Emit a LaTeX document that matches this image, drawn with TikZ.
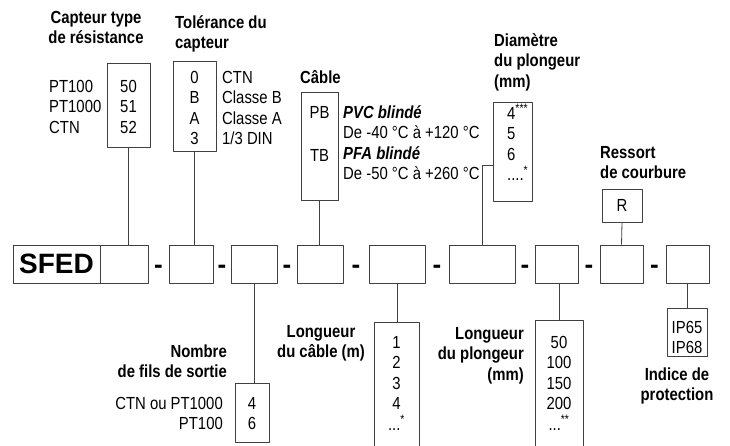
\documentclass[tikz,border=0pt]{standalone}
\usepackage{fontspec}
\setmainfont{Liberation Sans}[FakeStretch=0.85]
\newfontfamily\codefont{Liberation Sans}
\usetikzlibrary{calc,positioning}

\tikzset{
  boite/.style={draw=black!75, line width=0.8pt, inner sep=0pt},
  lien/.style={draw=black!75, line width=0.8pt},
  txt/.style={inner sep=0pt, font=\fontsize{17.5}{20.5}\selectfont},
  titre/.style={inner sep=0pt, font=\bfseries\fontsize{17.5}{20.5}\selectfont},
  tiret/.style={inner sep=0pt, yshift=-5pt, font=\codefont\bfseries\fontsize{26}{26}\selectfont},
}
% box given by two corners, in pixels (y goes down)
\newcommand{\boite}[5]{%
  \pgfmathsetmacro{\bw}{#4-#2}%
  \pgfmathsetmacro{\bh}{#5-#3}%
  \node[boite, minimum width=\bw pt, minimum height=\bh pt] (#1) at ({(#2+#4)/2},{(#3+#5)/2}) {};}

\begin{document}
\begin{tikzpicture}[x=1pt, y=-1pt, line join=round]
\useasboundingbox[fill=white] (0,0) rectangle (730,445);

% main code row
\node[boite, minimum width=87pt, minimum height=38pt,
      font=\codefont\bfseries\fontsize{28}{28}\selectfont] (sfed) at (56.5,264) {SFED};
\foreach \n/\xa/\xb in {1/100/148, 2/169/213, 3/231/277, 4/297/343,
                        5/369/425, 6/449/515, 7/535/578, 8/600/643, 9/666/709}{
  \boite{c\n}{\xa}{245}{\xb}{283}
}
\foreach \a/\b in {1/2,2/3,3/4,4/5,5/6,6/7,7/8,8/9}
  \node[tiret] (d\a) at ($(c\a.east)!.5!(c\b.west)$) {-};

% option boxes above
\boite{t1}{107}{63}{150}{147}
\boite{t2}{173}{61}{216}{151}
\boite{t3}{301}{92}{338}{200}
\boite{t4}{493}{102}{532}{201}
\node[boite, txt, minimum width=40pt, minimum height=33pt] (tr) at (622,205.5) {R};

% option boxes below
\boite{b3}{235}{383}{269}{442}
\boite{b5}{374}{322}{419}{448}
\boite{b7}{535}{320}{583}{448}
\boite{b9}{667}{308}{707}{356}

% connectors
\draw[lien] (t1.south) -- (t1.south |- c1.north);
\draw[lien] (t2.south) -- (t2.south |- c2.north);
\draw[lien] (t3.south) -- (t3.south |- c4.north);
\draw[lien] ([yshift=-13.5pt]t4.west) -| (c6.north);
\draw[lien] (tr.south) -- (c8.north);
\draw[lien] (c3.south) -- (c3.south |- b3.north);
\draw[lien] (c5.south) -- (c5.south |- b5.north);
\draw[lien] (b7.north) -- (b7.north |- c7.south);
\draw[lien] (c9.south) -- (c9.south |- b9.north);

% titles (base = last line)
\node[titre, align=center, anchor=base] (h1) at (96,43.5) {Capteur type\\de résistance};
\node[titre, align=left, anchor=base west] (h2) at (175,48.5) {Tolérance du\\capteur};
\node[titre, anchor=base west] (h3) at (300,83) {Câble};
\node[titre, align=left, anchor=base west] (h4) at (494,87) {Diamètre\\du plongeur\\(mm)};
\node[titre, align=left, anchor=base west] (h5) at (600,178.5) {Ressort\\de courbure};
\node[titre, align=right, anchor=base east] (h6) at (227,377.5) {Nombre\\de fils de sortie};
\node[titre, align=center, anchor=base] (h7) at (321,357.5) {Longueur\\du câble (m)};
\node[titre, align=right, anchor=base east] (h8) at (524,380) {Longueur\\du plongeur\\(mm)};
\node[titre, align=center, anchor=base] (h9) at (677,400.5) {Indice de\\protection};

% box contents and side labels
\node[txt, align=center, anchor=base] (v1) at (128.5,133) {50\\51\\52};
\node[txt, align=left, anchor=base west] (l1) at (49,133) {PT100\\PT1000\\CTN};
\node[txt, align=center, anchor=base] (v2) at (194.5,144.5) {0\\B\\A\\3};
\node[txt, align=left, anchor=base west] (l2) at (222,144.5) {CTN\\Classe B\\Classe A\\1/3 DIN};
\node[txt, anchor=base] (pb) at (319.5,118) {PB};
\node[txt, anchor=base] (tb) at (319.5,161) {TB};
\node[txt, align=left, anchor=base west] (l3) at (343,179.5)
  {\bfseries\itshape PVC blindé\\De -40 °C à +120 °C\\\bfseries\itshape PFA blindé\\De -50 °C à +260 °C};
\node[txt, align=left, anchor=base west] (v4) at (507,180.5)
  {4\textsuperscript{***}\\5\\6\\....\textsuperscript{*}};
\node[txt, align=center, anchor=base] (v3) at (252,429.5) {4\\6};
\node[txt, align=right, anchor=base east] (l6) at (223,429.5) {CTN ou PT1000\\PT100};
\node[txt, align=center, anchor=base] (v5) at (396.5,430) {1\\2\\3\\4\\...\textsuperscript{*}};
\node[txt, align=center, anchor=base] (v7) at (559,430) {50\\100\\150\\200\\...\textsuperscript{**}};
\node[txt, align=center, anchor=base] (v9) at (687,353.5) {IP65\\IP68};
\end{tikzpicture}
\end{document}
